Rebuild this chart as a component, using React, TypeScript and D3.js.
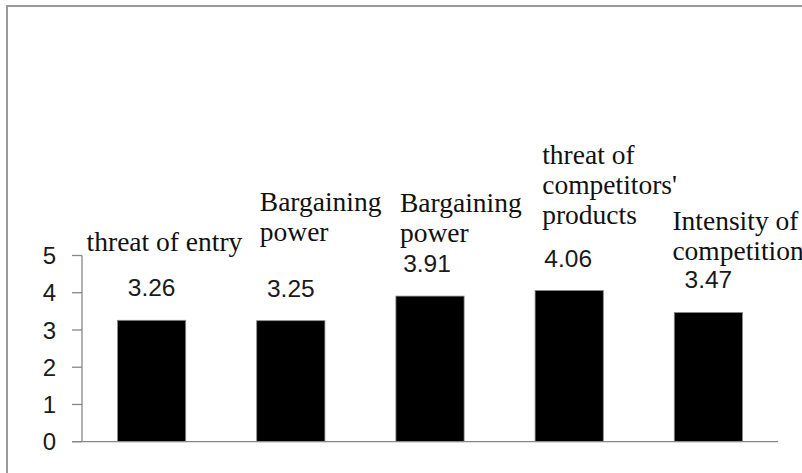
import React from "react";
import * as d3 from "d3";

const categories: string[][] = [
  ["threat of entry"],
  ["Bargaining", "power"],
  ["Bargaining", "power"],
  ["threat of", "competitors'", "products"],
  ["Intensity of", "competition"],
];
const values: number[] = [3.26, 3.25, 3.91, 4.06, 3.47];
const valueLabels: string[] = ["3.26", "3.25", "3.91", "4.06", "3.47"];
const yTicks: number[] = [0, 1, 2, 3, 4, 5];

// layout: label block offset from band centre (x: left edge, y: baseline of first line relative to value label baseline)
const labelDx: number[] = [-65, -31, -30, -27, -36];
const labelDy: number[] = [-45, -86, -60, -103, -58];
const valueDx: number[] = [0, 0, -3, -1, 0];

const W = 802;
const H = 473;
const x0 = 82;
const x1 = 778;
const yBottom = 441.7;
const yTop = 255.5;

export default function App() {
  const x = d3
    .scaleBand<number>()
    .domain(values.map((_, i) => i))
    .range([x0, x1])
    .paddingInner(0.51)
    .paddingOuter(0.255);
  const y = d3.scaleLinear().domain([0, 5]).range([yBottom, yTop]);
  const bw = x.bandwidth();
  const axisColor = "#878787";
  const lineH = 30;

  return (
    <svg
      width={W}
      height={H}
      style={{ position: "absolute", left: 0, top: 0, background: "#fff" }}
    >
      <rect x={0} y={0} width={W} height={H} fill="#fff" />
      <rect x={7} y={6} width={W} height={H + 10} fill="none" stroke="#9a9a9a" strokeWidth={2} />
      {/* bars */}
      {values.map((v, i) => (
        <rect
          key={"b" + i}
          x={x(i)!}
          y={y(v)}
          width={bw}
          height={y(0) - y(v)}
          fill="#000"
          stroke="#8a8a8a"
          strokeWidth={0.8}
        />
      ))}
      {/* axes */}
      <line x1={x0} x2={x0} y1={yTop} y2={yBottom} stroke={axisColor} strokeWidth={1.3} />
      <line x1={72} x2={x1} y1={yBottom} y2={yBottom} stroke={axisColor} strokeWidth={1.3} />
      {yTicks.map((t) => (
        <g key={"t" + t}>
          <line x1={72} x2={x0} y1={y(t)} y2={y(t)} stroke={axisColor} strokeWidth={1.3} />
          <text
            x={56}
            y={y(t)}
            dy="0.36em"
            textAnchor="end"
            fontFamily="Liberation Sans, Arial, sans-serif"
            fontSize={24}
            fill="#1a1a1a"
          >
            {t}
          </text>
        </g>
      ))}
      {/* value labels */}
      {values.map((v, i) => {
        const cx = x(i)! + bw / 2;
        const vb = y(v) - 24;
        return (
          <g key={"l" + i}>
            <text
              x={cx + valueDx[i]}
              y={vb}
              textAnchor="middle"
              fontFamily="Liberation Sans, Arial, sans-serif"
              fontSize={24.5}
              fill="#1a1a1a"
            >
              {valueLabels[i]}
            </text>
            <text
              x={cx + labelDx[i]}
              y={vb + labelDy[i]}
              fontFamily="Liberation Serif, Times New Roman, serif"
              fontSize={27.5}
              fill="#111"
            >
              {categories[i].map((line, k) => (
                <tspan key={k} x={cx + labelDx[i]} y={vb + labelDy[i] + k * lineH}>
                  {line}
                </tspan>
              ))}
            </text>
          </g>
        );
      })}
    </svg>
  );
}
